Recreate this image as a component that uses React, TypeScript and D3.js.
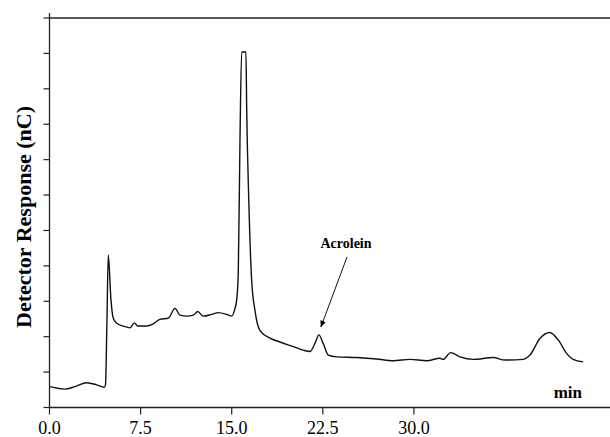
import * as d3 from "d3";
import { useMemo } from "react";

// retention time (min) and detector response
const times = [
  0.04, 1.28, 2.1, 3.06, 3.88, 4.51, 4.61, 4.73, 4.84, 5.06, 5.25, 5.53, 6.07,
  6.63, 6.98, 7.26, 8.0, 8.54, 9.09, 9.78, 10.33, 10.74, 11.29, 11.84, 12.2,
  12.66, 13.35, 13.89, 14.58, 15.0, 15.23, 15.41, 15.54, 15.68, 15.82, 16.17,
  16.23, 16.42, 16.64, 16.91, 17.33, 18.15, 18.97, 20.07, 20.89, 21.44, 21.85,
  22.18, 22.53, 22.95, 23.64, 25.28, 26.93, 28.3, 29.67, 31.05, 32.14, 32.41,
  33.02, 33.79, 34.88, 36.53, 37.49, 39.0, 39.55, 40.37, 41.19, 41.88, 42.57,
  43.11, 43.93,
];
const response = [
  0.59, 0.52, 0.59, 0.7, 0.64, 0.57, 0.64, 2.47, 4.31, 3.04, 2.52, 2.38, 2.3,
  2.25, 2.39, 2.3, 2.3, 2.36, 2.49, 2.52, 2.8, 2.61, 2.58, 2.61, 2.71, 2.58,
  2.63, 2.68, 2.63, 2.58, 2.75, 3.04, 3.8, 7.55, 10.04, 10.04, 8.49, 5.67, 3.6,
  2.75, 2.17, 1.96, 1.85, 1.72, 1.62, 1.58, 1.81, 2.05, 1.81, 1.48, 1.43, 1.41,
  1.37, 1.32, 1.36, 1.32, 1.39, 1.36, 1.55, 1.43, 1.36, 1.41, 1.34, 1.36, 1.48,
  1.95, 2.12, 1.91, 1.53, 1.36, 1.29,
];

const xTicks = [0, 7.5, 15, 22.5, 30];
const yTicks = d3.range(0, 12);

const acrolein = { t: 22.18, v: 2.05 };

export default function App() {
  const width = 610;
  const height = 437;
  const left = 49.5;
  const right = 610;
  const top = 18;
  const bottom = 407.5;

  const x = useMemo(
    () => d3.scaleLinear().domain([0, 46.14]).range([left, right]),
    []
  );
  const y = useMemo(
    () => d3.scaleLinear().domain([0, 11]).range([bottom, top]),
    []
  );

  const path = d3
    .line<number>()
    .x((t) => x(t))
    .y((_, i) => y(response[i]))
    .curve(d3.curveMonotoneX)(times);

  const serif = "'Liberation Serif', 'Times New Roman', serif";
  const ax = acrolein;
  const arrowEnd = [x(ax.t) + 2, y(ax.v) - 8];
  const arrowStart = [347, 257];

  return (
    <svg
      width={width}
      height={height}
      style={{ position: "absolute", left: 0, top: 0, background: "#fff" }}
    >
      <defs>
        <marker
          id="head"
          viewBox="0 0 10 10"
          refX="9"
          refY="5"
          markerWidth="7"
          markerHeight="7"
          orient="auto"
        >
          <path d="M0,1 L10,5 L0,9 Z" fill="#000" />
        </marker>
      </defs>

      {/* frame */}
      <line x1={left} x2={left} y1={13} y2={bottom} stroke="#222" strokeWidth={1.3} />
      <line x1={left} x2={right} y1={bottom} y2={bottom} stroke="#222" strokeWidth={1.3} />
      <line x1={left} x2={right} y1={top} y2={top} stroke="#222" strokeWidth={1.3} />

      {yTicks.map((v) => (
        <line
          key={v}
          x1={left - 6}
          x2={left}
          y1={y(v)}
          y2={y(v)}
          stroke="#222"
          strokeWidth={1.2}
        />
      ))}

      {xTicks.map((t) => (
        <g key={t}>
          <line
            x1={x(t)}
            x2={x(t)}
            y1={bottom}
            y2={bottom + 7}
            stroke="#222"
            strokeWidth={1.2}
          />
          <text
            x={x(t)}
            y={434}
            textAnchor="middle"
            fontFamily={serif}
            fontSize={18}
          >
            {t.toFixed(1)}
          </text>
        </g>
      ))}

      <path d={path ?? ""} fill="none" stroke="#111" strokeWidth={1.4} />

      <text
        transform={`translate(31, 217) rotate(-90)`}
        textAnchor="middle"
        fontFamily={serif}
        fontWeight="bold"
        fontSize={22}
      >
        Detector Response (nC)
      </text>

      <text
        x={582}
        y={398}
        textAnchor="end"
        fontFamily={serif}
        fontWeight="bold"
        fontSize={17}
      >
        min
      </text>

      <text
        x={346}
        y={248}
        textAnchor="middle"
        fontFamily={serif}
        fontWeight="bold"
        fontSize={14}
      >
        Acrolein
      </text>
      <line
        x1={arrowStart[0]}
        y1={arrowStart[1]}
        x2={arrowEnd[0]}
        y2={arrowEnd[1]}
        stroke="#111"
        strokeWidth={1}
        markerEnd="url(#head)"
      />
    </svg>
  );
}
